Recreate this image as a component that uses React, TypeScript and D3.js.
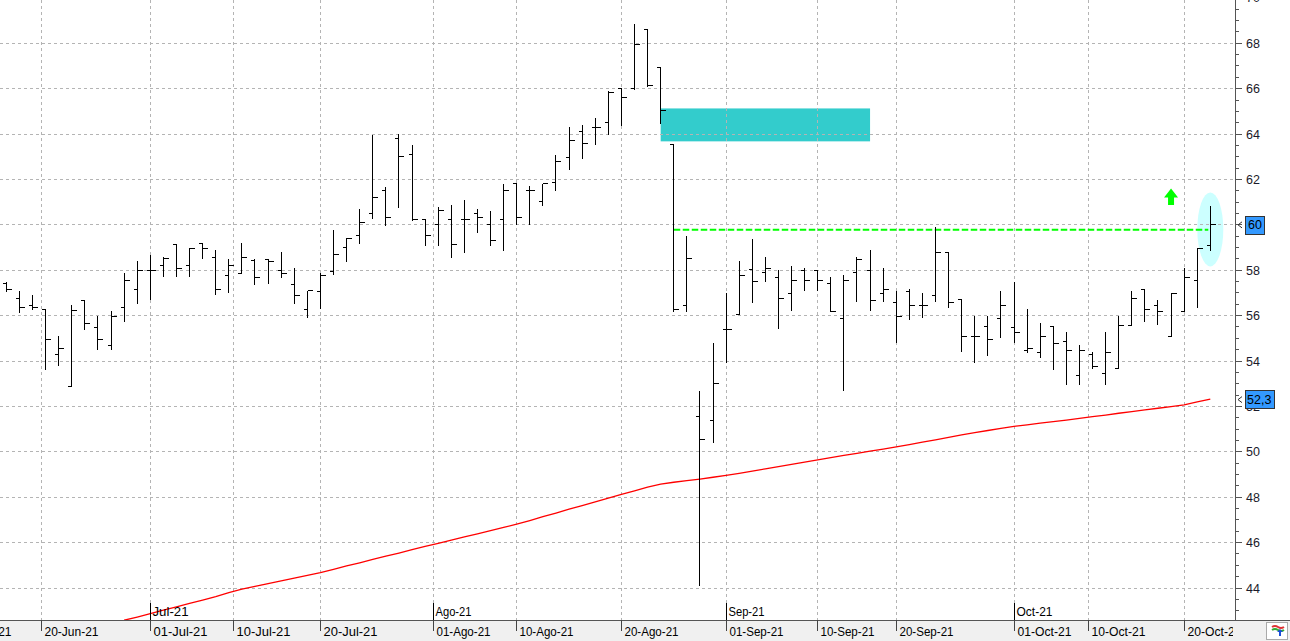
import React from 'react';
import * as d3 from 'd3';

// ---- Data (daily OHLC, trading days from 16-Jun-21 to 22-Oct-21) ----
const startDate = '2021-06-16';
const endDate = '2021-10-22';

const openP = [
  57.43, 56.76, 56.44, 56.29, 54.29, 52.90, 56.68, 55.49, 54.69, 56.37,
  57.16, 58.00, 58.19, 59.12, 58.19, 59.19, 58.57, 57.79, 57.87, 58.43,
  58.49, 58.00, 57.38, 56.28, 57.07, 57.95, 59.00, 59.51, 60.49, 61.51,
  63.79, 63.10, 60.22, 60.00, 60.22, 60.22, 60.49, 60.00, 60.22, 61.81,
  61.50, 61.03, 61.88, 62.98, 64.10, 64.30, 64.50, 66.00, 66.00, 68.60,
  66.93, 63.53, 56.46, 51.57, 51.40, 55.41, 56.06, 58.02, 57.88, 57.69,
  56.99, 58.00, 58.00, 57.40, 55.88, 57.88, 58.00, 56.97, 56.60, 57.08,
  56.46, 56.90, 58.80, 56.71, 55.09, 55.50, 55.88, 55.49, 54.47, 54.38,
  55.50, 54.85, 53.38, 54.29, 53.46, 53.68, 55.57, 57.16, 56.46, 55.09,
  56.19, 57.55, 59.10,
];
const highP = [
  57.49, 57.09, 56.91, 56.29, 55.10, 56.46, 56.68, 55.99, 56.21, 57.88,
  58.41, 58.68, 58.57, 59.12, 58.97, 59.19, 58.88, 58.49, 59.19, 58.49,
  58.49, 58.79, 58.09, 57.09, 57.87, 59.79, 59.40, 60.72, 63.96, 61.69,
  64.01, 63.53, 60.22, 60.79, 60.88, 61.10, 60.72, 60.62, 61.81, 61.81,
  61.71, 61.81, 63.08, 64.32, 64.40, 64.72, 65.92, 66.00, 68.84, 68.60,
  66.93, 63.53, 59.52, 52.69, 54.81, 57.00, 58.42, 59.39, 58.59, 58.00,
  58.19, 58.09, 58.00, 57.71, 57.79, 58.59, 58.90, 58.09, 57.10, 57.16,
  56.99, 59.92, 58.80, 56.74, 55.97, 55.97, 57.09, 57.49, 56.29, 55.68,
  55.50, 55.26, 54.69, 54.41, 55.26, 55.97, 57.09, 57.16, 56.69, 56.99,
  58.09, 58.98, 60.81,
];
const lowP = [
  57.09, 56.18, 56.28, 53.66, 53.84, 52.90, 55.40, 54.54, 54.54, 55.78,
  56.57, 56.75, 57.76, 57.76, 57.76, 58.56, 56.97, 57.06, 57.87, 57.38,
  57.46, 57.69, 56.57, 55.96, 56.35, 57.85, 58.40, 59.19, 60.29, 60.00,
  60.78, 60.22, 59.10, 59.10, 58.59, 58.79, 59.68, 59.10, 58.88, 60.06,
  60.06, 60.87, 61.53, 62.47, 62.96, 63.57, 64.00, 64.38, 66.00, 66.13,
  64.49, 56.19, 56.19, 44.15, 50.44, 53.97, 56.06, 56.58, 57.53, 55.47,
  56.25, 57.15, 57.15, 56.19, 52.74, 56.66, 56.26, 56.66, 54.84, 55.87,
  55.96, 56.66, 56.36, 54.46, 53.97, 54.26, 55.07, 54.85, 54.38, 54.19,
  53.66, 52.97, 52.97, 53.69, 52.97, 53.68, 55.57, 55.78, 55.65, 55.09,
  56.19, 56.37, 58.88,
];
const closeP = [
  57.16, 56.37, 56.35, 54.96, 54.57, 56.21, 55.66, 54.97, 55.97, 57.56,
  58.00, 58.00, 58.50, 58.09, 58.97, 58.97, 57.16, 58.19, 58.57, 57.69,
  58.40, 57.87, 56.88, 57.09, 57.79, 58.68, 59.40, 60.09, 61.19, 60.31,
  63.00, 60.22, 59.51, 60.63, 59.12, 60.22, 60.31, 59.29, 61.50, 60.31,
  61.50, 61.81, 62.80, 63.70, 63.60, 64.30, 65.82, 65.60, 67.96, 66.13,
  65.04, 56.29, 58.50, 50.56, 52.99, 55.41, 57.78, 57.49, 58.09, 56.76,
  57.56, 57.56, 57.56, 56.19, 57.56, 58.49, 56.68, 57.16, 55.97, 56.46,
  56.46, 58.80, 56.60, 55.09, 55.09, 54.97, 56.46, 55.26, 54.56, 55.09,
  54.78, 54.47, 54.47, 53.78, 54.38, 55.57, 56.76, 56.29, 56.19, 56.99,
  57.69, 58.98, 60.00,
];
// long moving average (red line), null where not drawn
const movingAvg = [
  null, null, null, null, null, null, null, null, null, 42.58,
  42.72, 42.87, 43.02, 43.17, 43.32, 43.47, 43.62, 43.80, 43.95, 44.07,
  44.19, 44.31, 44.44, 44.56, 44.68, 44.82, 44.97, 45.11, 45.26, 45.40,
  45.54, 45.69, 45.83, 45.97, 46.11, 46.25, 46.39, 46.53, 46.67, 46.81,
  46.97, 47.14, 47.30, 47.47, 47.63, 47.80, 47.96, 48.12, 48.28, 48.44,
  48.58, 48.66, 48.73, 48.80, 48.88, 48.96, 49.05, 49.15, 49.25, 49.35,
  49.45, 49.55, 49.65, 49.74, 49.84, 49.93, 50.03, 50.12, 50.22, 50.32,
  50.43, 50.53, 50.64, 50.75, 50.85, 50.94, 51.03, 51.12, 51.19, 51.26,
  51.33, 51.40, 51.47, 51.55, 51.62, 51.70, 51.77, 51.85, 51.92, 51.99,
  52.07, 52.20, 52.32,
];

const dateTicks = [
  '2021-06-10', '2021-06-20', '2021-07-01', '2021-07-10', '2021-07-20',
  '2021-08-01', '2021-08-10', '2021-08-20', '2021-09-01', '2021-09-10',
  '2021-09-20', '2021-10-01', '2021-10-10', '2021-10-20',
];
const dateTickLabels = [
  '10-Jun-21', '20-Jun-21', '01-Jul-21', '10-Jul-21', '20-Jul-21',
  '01-Ago-21', '10-Ago-21', '20-Ago-21', '01-Sep-21', '10-Sep-21',
  '20-Sep-21', '01-Oct-21', '10-Oct-21', '20-Oct-21',
];
const monthTicks = ['2021-07-01', '2021-08-01', '2021-09-01', '2021-10-01'];
const monthLabels = ['Jul-21', 'Ago-21', 'Sep-21', 'Oct-21'];
const priceTicks = [44, 46, 48, 50, 52, 54, 56, 58, 60, 62, 64, 66, 68, 70];

const lastPrice = 60;
const lastPriceLabel = '60';
const lastAvg = 52.3;
const lastAvgLabel = '52,3';
const resistanceLevel = 59.78;
const resistanceFrom = 51;
const zoneTop = 65.13;
const zoneBottom = 63.68;
const zoneFrom = 50;
const zoneTo = 66;
const arrowIndex = 89;
const arrowTopValue = 61.6;
const arrowBottomValue = 60.88;
const ellipseValue = 59.8;

// ---- helpers ----
const DAY = 86400000;
const parseDay = (s: string) => {
  const [Y, M, D] = s.split('-').map(Number);
  return Date.UTC(Y, M - 1, D);
};
const isWeekday = (t: number) => {
  const g = new Date(t).getUTCDay();
  return g !== 0 && g !== 6;
};
const firstT = parseDay(startDate);
const tradingIndex = (t: number) => {
  if (t >= firstT) {
    return d3.utcDay.range(new Date(firstT), new Date(t)).filter((d) => isWeekday(d.getTime())).length;
  }
  return -d3.utcDay.range(new Date(t), new Date(firstT)).filter((d) => isWeekday(d.getTime())).length;
};
const posOf = (s: string) => {
  const t = parseDay(s);
  if (isWeekday(t)) return tradingIndex(t);
  let a = t;
  while (!isWeekday(a)) a -= DAY;
  let b = t;
  while (!isWeekday(b)) b += DAY;
  const ia = tradingIndex(a);
  const ib = tradingIndex(b);
  return ia + ((ib - ia) * (t - a)) / (b - a);
};

export default function App() {
  const W = 1290;
  const H = 641;
  const plotRight = 1235;
  const plotBottom = 620;
  const n = closeP.length;
  const tradingDays = d3.utcDay
    .range(new Date(parseDay(startDate)), new Date(parseDay(endDate) + DAY))
    .filter((d) => isWeekday(d.getTime()));
  const lastIdx = Math.min(n, tradingDays.length) - 1;

  const x = d3.scaleLinear().domain([0, lastIdx]).range([6.35, 1210.3]);
  const y = d3.scaleLinear().domain([44, 68]).range([588, 43.3]);
  const snap = (v: number) => Math.floor(v) + 0.5;

  const maLine = d3
    .line<number | null>()
    .defined((d) => d !== null)
    .x((_, i) => x(i))
    .y((d) => y(d as number))(movingAvg);

  const minorTicks = d3.range(43, 70.01, 0.5);
  const gridColor = '#b4b4b4';
  const axisFont = "'Liberation Sans', Arial, sans-serif";

  const arrowX = x(arrowIndex);
  const aTop = y(arrowTopValue);
  const aBot = y(arrowBottomValue);
  const aMid = aTop + (aBot - aTop) * 0.55;
  const arrowPath = `M${arrowX},${aTop} L${arrowX + 7},${aMid} L${arrowX + 3},${aMid} L${arrowX + 3},${aBot} L${arrowX - 3},${aBot} L${arrowX - 3},${aMid} L${arrowX - 7},${aMid} Z`;

  return (
    <svg
      width={W}
      height={H}
      style={{ position: 'absolute', left: 0, top: 0, background: '#fff' }}
      xmlns="http://www.w3.org/2000/svg"
    >
      <defs>
        <clipPath id="plotClip">
          <rect x={0} y={0} width={plotRight} height={plotBottom} />
        </clipPath>
        <clipPath id="axisClip">
          <rect x={0} y={plotBottom} width={plotRight - 2} height={H - plotBottom} />
        </clipPath>
      </defs>
      <rect x={0} y={0} width={W} height={H} fill="#fff" />

      <g clipPath="url(#plotClip)">
        {/* turquoise zone */}
        <rect
          x={x(zoneFrom)}
          y={y(zoneTop)}
          width={x(zoneTo) - x(zoneFrom)}
          height={y(zoneBottom) - y(zoneTop)}
          fill="#33cccc"
        />
        {/* light cyan ellipse on last bar */}
        <ellipse cx={x(lastIdx)} cy={y(ellipseValue)} rx={13} ry={37} fill="#ccffff" />

        {/* horizontal grid */}
        {priceTicks.map((v) => (
          <line
            key={'h' + v}
            x1={0}
            x2={plotRight}
            y1={snap(y(v))}
            y2={snap(y(v))}
            stroke={gridColor}
            strokeDasharray="3,3"
            shapeRendering="crispEdges"
          />
        ))}
        {/* vertical grid */}
        {dateTicks.map((d) => (
          <line
            key={'v' + d}
            x1={snap(x(posOf(d)))}
            x2={snap(x(posOf(d)))}
            y1={0}
            y2={plotBottom}
            stroke={gridColor}
            strokeDasharray="3,3"
            shapeRendering="crispEdges"
          />
        ))}

        {/* moving average */}
        <path d={maLine || ''} fill="none" stroke="#ff0000" strokeWidth={1.3} />

        {/* resistance line */}
        <line
          x1={x(resistanceFrom)}
          x2={x(lastIdx) - 2}
          y1={y(resistanceLevel)}
          y2={y(resistanceLevel)}
          stroke="#00ff00"
          strokeWidth={2}
          strokeDasharray="6.5,2.5"
        />

        {/* OHLC bars */}
        {closeP.slice(0, lastIdx + 1).map((c, i) => {
          const cx = snap(x(i));
          return (
            <g key={'b' + i} stroke="#000" strokeWidth={1} shapeRendering="crispEdges">
              <line x1={cx} x2={cx} y1={Math.round(y(highP[i]))} y2={Math.round(y(lowP[i])) + 1} />
              <line x1={cx - 4} x2={cx} y1={snap(y(openP[i]))} y2={snap(y(openP[i]))} />
              <line x1={cx} x2={cx + 5} y1={snap(y(c))} y2={snap(y(c))} />
            </g>
          );
        })}

        {/* green arrow */}
        <path d={arrowPath} fill="#00ff00" />

        {/* month markers */}
        {monthTicks.map((d, k) => {
          const mx = snap(x(posOf(d)));
          return (
            <g key={'m' + d}>
              <line x1={mx} x2={mx} y1={603} y2={plotBottom} stroke="#000" shapeRendering="crispEdges" />
              <text
                x={mx + 2}
                y={616}
                fontFamily={axisFont}
                fontSize={13}
                fill="#000"
                textLength={monthLabels[k].length * 6}
                lengthAdjust="spacingAndGlyphs"
              >
                {monthLabels[k]}
              </text>
            </g>
          );
        })}
      </g>

      {/* bottom band */}
      <rect x={0} y={plotBottom} width={W} height={H - plotBottom} fill="#f0f0f0" />
      <line x1={0} x2={W} y1={plotBottom + 0.5} y2={plotBottom + 0.5} stroke="#555" shapeRendering="crispEdges" />
      <g clipPath="url(#axisClip)">
        {dateTicks.map((d, k) => {
          const tx = snap(x(posOf(d)));
          return (
            <g key={'t' + d}>
              <line x1={tx} x2={tx} y1={plotBottom} y2={plotBottom + 11} stroke="#444" shapeRendering="crispEdges" />
              <text
                x={tx + 3}
                y={636}
                fontFamily={axisFont}
                fontSize={13}
                fill="#000"
                textLength={dateTickLabels[k].length * 6}
                lengthAdjust="spacingAndGlyphs"
              >
                {dateTickLabels[k]}
              </text>
            </g>
          );
        })}
      </g>

      {/* right axis */}
      <line x1={plotRight + 0.5} x2={plotRight + 0.5} y1={0} y2={plotBottom} stroke="#555" shapeRendering="crispEdges" />
      {minorTicks.map((v) => {
        const major = Math.abs(v % 2) < 1e-6;
        return (
          <line
            key={'mt' + v}
            x1={plotRight}
            x2={plotRight + (major ? 7 : 4)}
            y1={snap(y(v))}
            y2={snap(y(v))}
            stroke="#555"
            shapeRendering="crispEdges"
          />
        );
      })}
      {priceTicks.map((v) => (
        <text
          key={'yl' + v}
          x={plotRight + 11}
          y={y(v) + 4.5}
          fontFamily={axisFont}
          fontSize={12.5}
          fill="#1a1a2a"
        >
          {v}
        </text>
      ))}

      {/* last price marker */}
      <path
        d={`M${plotRight + 7},${y(lastPrice) - 3} L${plotRight + 3},${y(lastPrice)} L${plotRight + 7},${y(lastPrice) + 3}`}
        fill="none"
        stroke="#333"
      />
      <rect x={1245.5} y={Math.round(y(lastPrice)) - 8.5} width={19} height={18} fill="#3399ff" stroke="#333" />
      <text x={1248} y={y(lastPrice) + 4.5} fontFamily={axisFont} fontSize={12.5} fill="#000">
        {lastPriceLabel}
      </text>

      {/* moving average marker */}
      <path
        d={`M${plotRight + 7},${y(lastAvg) - 3} L${plotRight + 3},${y(lastAvg)} L${plotRight + 7},${y(lastAvg) + 3}`}
        fill="none"
        stroke="#333"
      />
      <rect x={1245.5} y={Math.round(y(lastAvg)) - 9.5} width={29} height={18} fill="#3399ff" stroke="#333" />
      <text x={1247} y={y(lastAvg) + 4.5} fontFamily={axisFont} fontSize={12.5} fill="#000">
        {lastAvgLabel}
      </text>

      {/* bottom-right icon */}
      <g>
        <rect x={1266.5} y={622.5} width={21} height={17} fill="#fff" stroke="#aaa" />
        <path d="M1272,627 q3,-2 6,0 t6,0" fill="none" stroke="#d33" strokeWidth={2} />
        <path d="M1272,630 q3,-2 6,0 t6,0" fill="none" stroke="#3a3" strokeWidth={2} />
        <path d="M1277,632 l3,-3 l3,3 z M1279,632 h2 v4 h-2 z" fill="#1a4fd8" />
      </g>
    </svg>
  );
}
